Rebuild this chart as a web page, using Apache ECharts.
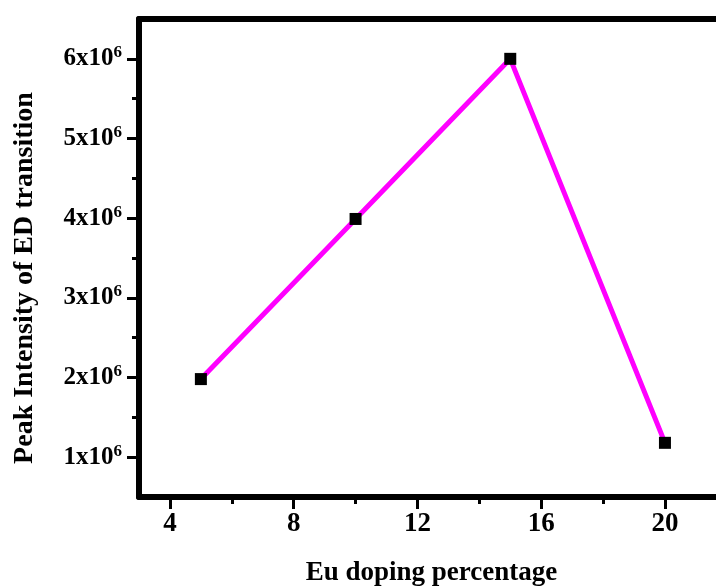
<!DOCTYPE html>
<html>
<head>
<meta charset="utf-8">
<script src="https://cdn.jsdelivr.net/npm/echarts@6/dist/echarts.min.js"></script>
<style>
  html, body { margin: 0; padding: 0; background: #fff; }
  #box { width: 716px; height: 587px; }
</style>
</head>
<body>
<div id="box"></div>
<script>
// Eu doping percentage vs peak intensity of ED transition
var dopingPct = [5, 10, 15, 20];
var peakIntensity = [1.98e6, 3.99e6, 6.0e6, 1.18e6];
var xMajor = [4, 8, 12, 16, 20];
var xMinor = [6, 10, 14, 18];
var yMajor = [1e6, 2e6, 3e6, 4e6, 5e6, 6e6];
var yMinor = [1.5e6, 2.5e6, 3.5e6, 4.5e6, 5.5e6];

var font = "'Liberation Serif', 'Times New Roman', serif";
var black = "#000";

function hidden() {
  return { show: false };
}

var myChart = echarts.init(document.getElementById("box"));
var xBase = { type: "value", min: 3, max: 21.65, gridIndex: 0, splitLine: hidden() };
var yBase = { type: "value", min: 0.5e6, max: 6.5e6, gridIndex: 0, splitLine: hidden() };

var option = {
  animation: false,
  grid: {
    left: 139,
    right: 0,
    top: 19,
    bottom: 90,
    containLabel: false,
    outerBoundsMode: "none"
  },
  xAxis: [
    Object.assign({}, xBase, {
      position: "bottom",
      name: "Eu doping percentage",
      nameLocation: "middle",
      nameGap: 63,
      nameTextStyle: { fontFamily: font, fontWeight: "bold", fontSize: 27, color: black, padding: [0, 0, 0, 8] },
      axisLine: { onZero: false, lineStyle: { color: black, width: 6 } },
      axisTick: { customValues: xMajor, length: 12, lineStyle: { width: 3, color: black } },
      axisLabel: {
        customValues: xMajor,
        margin: 14,
        fontFamily: font,
        fontWeight: "bold",
        fontSize: 27,
        color: black
      }
    }),
    // minor ticks on the bottom
    Object.assign({}, xBase, {
      position: "bottom",
      axisLine: { show: false, onZero: false },
      axisTick: { customValues: xMinor, length: 7, lineStyle: { width: 3, color: black } },
      axisLabel: { show: false }
    }),
    // top frame line
    Object.assign({}, xBase, {
      position: "top",
      axisLine: { onZero: false, lineStyle: { color: black, width: 6 } },
      axisTick: hidden(),
      axisLabel: hidden()
    })
  ],
  yAxis: [
    Object.assign({}, yBase, {
      position: "left",
      name: "Peak Intensity of ED transition",
      nameLocation: "middle",
      nameGap: 100,
      nameTextStyle: { fontFamily: font, fontWeight: "bold", fontSize: 28, color: black, padding: [0, 40, 0, 0] },
      axisLine: { onZero: false, lineStyle: { color: black, width: 6 } },
      axisTick: { customValues: yMajor, length: 12, lineStyle: { width: 3, color: black } },
      axisLabel: {
        customValues: yMajor,
        margin: 17,
        formatter: function (v) {
          return "{a|" + Math.round(v / 1e6) + "x10}{s|6}";
        },
        rich: {
          a: { fontFamily: font, fontWeight: "bold", fontSize: 25, color: black },
          s: { fontFamily: font, fontWeight: "bold", fontSize: 17, color: black, verticalAlign: "top", padding: [0, 0, 12, 0] }
        }
      }
    }),
    Object.assign({}, yBase, {
      position: "left",
      axisLine: { show: false, onZero: false },
      axisTick: { customValues: yMinor, length: 7, lineStyle: { width: 3, color: black } },
      axisLabel: { show: false }
    })
  ],
  series: [
    {
      type: "line",
      xAxisIndex: 0,
      yAxisIndex: 0,
      data: dopingPct.map(function (x, i) { return [x, peakIntensity[i]]; }),
      lineStyle: { color: "#ff00ff", width: 5 },
      symbol: "rect",
      symbolSize: 12,
      itemStyle: { color: black },
      z: 3
    }
  ]
};
myChart.setOption(option);
</script>
</body>
</html>
